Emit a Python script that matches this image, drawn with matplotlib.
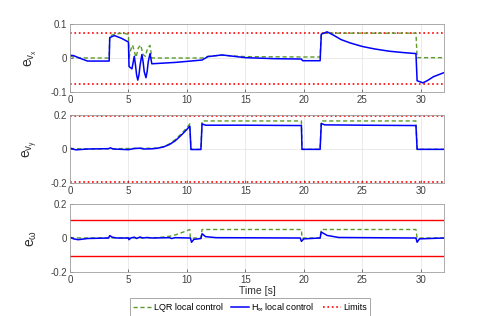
import numpy as np
import matplotlib
matplotlib.use("Agg")
import matplotlib.pyplot as plt

plt.rcParams['font.family'] = ['Liberation Sans', 'DejaVu Sans']
plt.rcParams['axes.unicode_minus'] = False
plt.rcParams['mathtext.fontset'] = 'custom'
plt.rcParams['mathtext.rm'] = 'Liberation Sans'

# --- e_vx ---
t_vx_hinf = [0, 0.3, 0.8, 1.5, 3.35, 3.4, 3.8, 4.4, 5.0, 5.05, 5.3, 5.5, 5.6, 5.7, 5.8, 5.9, 6.0,
             6.15, 6.25, 6.35, 6.5, 6.6, 6.7, 6.85, 7.0, 9.0, 11.3, 11.8, 13.0, 15.0, 17.5, 19.8,
             19.9, 21.4, 21.5, 22.0, 22.5, 23.2, 24.0, 25.0, 26.0, 27.3, 28.5, 29.6, 29.7, 30.2,
             30.6, 31.1, 32.0]
vx_hinf = [0.008, 0.007, 0.0, -0.009, -0.009, 0.06, 0.066, 0.058, 0.047, -0.025, -0.032, 0.005,
           -0.02, -0.05, -0.065, -0.05, -0.02, 0.01, -0.01, -0.04, -0.058, -0.04, -0.01, 0.013,
           -0.017, -0.013, -0.006, 0.004, 0.009, 0.001, -0.002, -0.003, -0.008, -0.008, 0.07,
           0.077, 0.068, 0.054, 0.044, 0.034, 0.027, 0.02, 0.016, 0.013, -0.067, -0.073, -0.066,
           -0.055, -0.043]
t_vx_lqr = [0, 0.5, 1.5, 3.35, 3.4, 3.8, 4.5, 5.0, 5.05, 5.2, 5.35, 5.5, 5.65, 5.85, 6.05, 6.25,
            6.45, 6.65, 6.85, 7.0, 9.0, 11.3, 11.8, 13.0, 15.0, 19.8, 21.4, 21.5, 29.6, 29.7, 32]
vx_lqr = [0.005, 0.001, 0.0, 0.0, 0.065, 0.07, 0.073, 0.07, 0.0, 0.025, 0.038, 0.02, 0.002,
          0.03, 0.038, 0.01, 0.005, 0.03, 0.037, 0.0, 0.0, 0.0, 0.005, 0.008, 0.004, 0.003,
          0.003, 0.073, 0.073, 0.001, 0.001]

# --- e_vy ---
t_vy_hinf = [0, 0.5, 1.5, 3.3, 3.45, 3.7, 5.0, 5.5, 6.0, 6.3, 7.0, 7.5, 8.0, 8.5, 9.0, 9.5, 10.0,
             10.25, 10.35, 11.2, 11.3, 11.6, 15, 19.8, 19.85, 21.4, 21.5, 21.8, 25, 29.6, 29.7, 32]
vy_hinf = [0.005, -0.005, 0.0, 0.002, 0.007, 0.0, -0.004, 0.003, 0.005, 0.0, 0.001, 0.005,
           0.012, 0.026, 0.048, 0.08, 0.115, 0.135, -0.003, -0.003, 0.148, 0.14, 0.14, 0.138,
           -0.002, -0.002, 0.15, 0.142, 0.14, 0.138, -0.002, -0.002]
t_vy_lqr = [0, 1.5, 7.5, 8.0, 8.5, 9.0, 9.5, 10.0, 10.25, 10.35, 11.2, 11.3, 19.8, 19.85, 21.4,
            21.5, 29.6, 29.7, 32]
vy_lqr = [0.003, 0.0, 0.005, 0.014, 0.03, 0.055, 0.088, 0.125, 0.148, -0.002, -0.002, 0.165,
          0.165, -0.002, -0.002, 0.165, 0.165, -0.002, -0.002]

# --- e_omega ---
t_w_hinf = [0, 0.3, 0.7, 1.5, 3.3, 3.4, 3.6, 4.0, 5.0, 5.05, 5.2, 5.5, 5.7, 6.0, 6.2, 6.6, 7.0,
            8.5, 8.7, 9.0, 10.3, 10.4, 10.6, 11.2, 11.3, 11.6, 12.5, 19.7, 19.8, 20.0, 21.4, 21.5,
            22.0, 23.0, 29.6, 29.7, 29.9, 32]
w_hinf = [0.005, -0.005, -0.01, -0.003, 0.0, 0.014, 0.005, 0.0, 0.0, -0.01, 0.0, 0.005, -0.003,
          0.006, 0.0, 0.003, 0.0, 0.002, -0.003, 0.002, 0.0, -0.025, -0.008, -0.003, 0.025,
          0.008, 0.002, 0.0, -0.02, -0.005, 0.0, 0.035, 0.015, 0.003, 0.0, -0.025, -0.005, 0.0]
t_w_lqr = [0, 1, 7.5, 8.5, 9.0, 9.5, 10.0, 10.25, 10.3, 11.2, 11.3, 19.8, 19.85, 21.4, 21.5,
           29.6, 29.7, 32]
w_lqr = [0.002, 0.0, 0.002, 0.01, 0.018, 0.03, 0.043, 0.05, 0.0, 0.0, 0.05, 0.05, 0.0, 0.0,
         0.05, 0.05, 0.0, 0.0]

limits = [0.075, 0.195, 0.1047]
ylims = [0.1, 0.2, 0.2]
ylabels = [r'$\mathregular{e_{v_x}}$', r'$\mathregular{e_{v_y}}$', r'$\mathregular{e_\omega}$']

green = '#5B9B2A'
blue = '#0000FF'
red = '#FF0000'

fig = plt.figure(figsize=(4.91, 3.16), dpi=100)
left, width = 70 / 491, 374 / 491
tops = [24, 115, 204]
h = 68

series = [(t_vx_lqr, vx_lqr, t_vx_hinf, vx_hinf),
          (t_vy_lqr, vy_lqr, t_vy_hinf, vy_hinf),
          (t_w_lqr, w_lqr, t_w_hinf, w_hinf)]

for i, (tl, vl, th, vh) in enumerate(series):
    ax = fig.add_axes([left, 1 - (tops[i] + h) / 316, width, h / 316])
    ax.grid(True, color='#E6E6E6', linewidth=0.6)
    ax.set_axisbelow(True)
    ls_lim = '-' if i == 2 else ':'
    lw_lim = 1.0 if i == 2 else 1.2
    ax.axhline(limits[i], color=red, linestyle=ls_lim, linewidth=lw_lim)
    ax.axhline(-limits[i], color=red, linestyle=ls_lim, linewidth=lw_lim)
    ax.plot(tl, vl, color=green, linestyle='--', linewidth=1.0, dashes=(3, 2))
    ax.plot(th, vh, color=blue, linewidth=1.1)
    ax.set_xlim(0, 32)
    ax.set_ylim(-ylims[i], ylims[i])
    ax.set_xticks([0, 5, 10, 15, 20, 25, 30])
    ax.set_yticks([-ylims[i], 0, ylims[i]])
    ax.set_yticklabels(['-%g' % ylims[i], '0', '%g' % ylims[i]])
    ax.tick_params(direction='in', length=2.5, width=0.5, colors='#404040',
                   labelsize=7, pad=2, top=False, right=False)
    for s in ax.spines.values():
        s.set_color('#A0A0A0')
        s.set_linewidth(0.6)
    ax.set_ylabel(ylabels[i], fontsize=10, color='#303030', labelpad=8)
    if i == 2:
        ax.set_xlabel('Time [s]', fontsize=7.5, color='#303030', labelpad=1)

handles = [
    plt.Line2D([], [], color=green, linestyle='--', dashes=(3, 2), linewidth=1.0),
    plt.Line2D([], [], color=blue, linewidth=1.1),
    plt.Line2D([], [], color=red, linestyle=':', linewidth=1.2),
]
labels = ['LQR local control', r'$\mathregular{H_\infty}$ local control', 'Limits']
leg = fig.legend(handles, labels, loc='center', bbox_to_anchor=(250 / 491, 1 - 307 / 316),
                 ncol=3, fontsize=6.5, frameon=True, fancybox=False, handlelength=2.0,
                 handletextpad=0.3, columnspacing=0.9, borderpad=0.3)
leg.get_frame().set_edgecolor('#808080')
leg.get_frame().set_linewidth(0.6)

fig.savefig('out.png', dpi=100)
